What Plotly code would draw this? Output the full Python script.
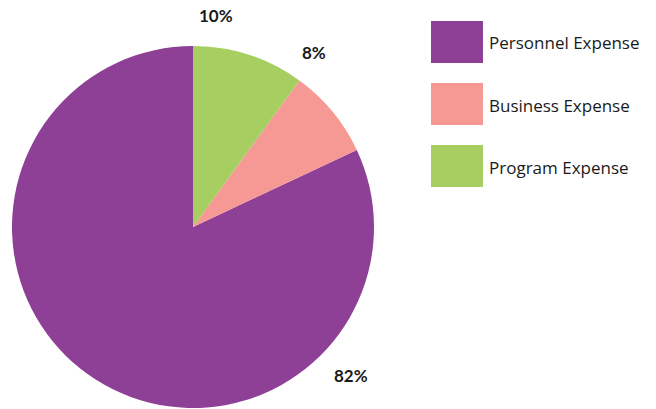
import plotly.graph_objects as go

labels = ["Personnel Expense", "Business Expense", "Program Expense"]
values = [82, 8, 10]
colors = ["#8E4096", "#F69894", "#A6CE61"]
pct_text = ["82%", "8%", "10%"]

W, H = 656, 409
fig = go.Figure()
fig.add_trace(go.Pie(
    labels=labels, values=values, sort=False, direction="counterclockwise",
    rotation=64.8, marker=dict(colors=colors, line=dict(width=0)),
    textinfo="none", hoverinfo="label+percent", showlegend=False,
    domain=dict(x=[12 / W, 374 / W], y=[1 - 408 / H, 1 - 46 / H]),
))

# percentage label positions (px) in label order
label_pos = [(351, 375), (314, 53), (216, 16)]
for t, (px, py) in zip(pct_text, label_pos):
    fig.add_annotation(x=px / W, y=1 - py / H, xref="paper", yref="paper",
                       text=t, showarrow=False, xanchor="center", yanchor="middle",
                       font=dict(family="Lato", size=17, color="#1a1a1a", weight="bold"))

# custom legend
box_top = [21, 83, 145]
for lab, col, top in zip(labels, colors, box_top):
    fig.add_shape(type="rect", xref="paper", yref="paper",
                  x0=431 / W, x1=483 / W, y0=1 - (top + 42) / H, y1=1 - top / H,
                  fillcolor=col, line=dict(width=0))
    fig.add_annotation(x=487 / W, y=1 - (top + 22) / H, xref="paper", yref="paper",
                       text=lab, showarrow=False, xanchor="left", yanchor="middle",
                       font=dict(family="Open Sans", size=17, color="#1a1a1a"))

fig.update_layout(width=W, height=H, margin=dict(l=0, r=0, t=0, b=0),
                  paper_bgcolor="white", plot_bgcolor="white")
fig.write_html("out.html")
